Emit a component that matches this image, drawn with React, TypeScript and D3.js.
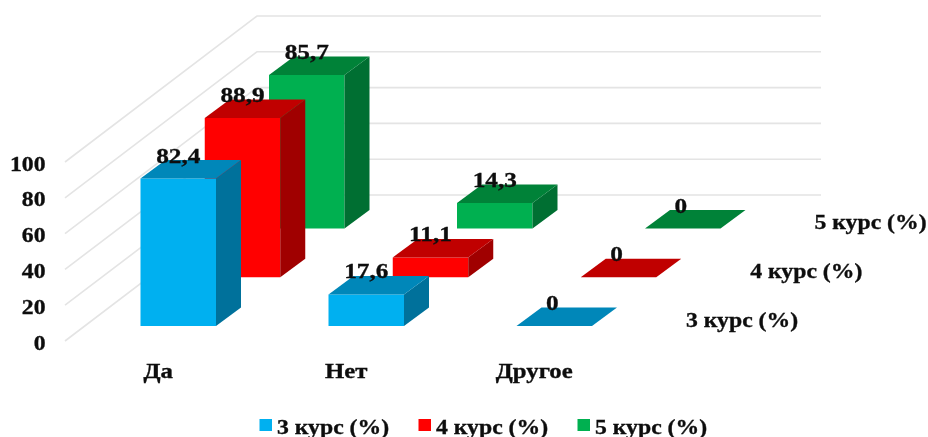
import React from "react";
import * as d3 from "d3";

const categories = ["Да", "Нет", "Другое"];
const seriesNames = ["3 курс (%)", "4 курс (%)", "5 курс (%)"];
const course3 = [82.4, 17.6, 0];
const course4 = [88.9, 11.1, 0];
const course5 = [85.7, 14.3, 0];
const seriesValues = [course3, course4, course5];
const valueLabels = [["82,4", "17,6", "0"], ["88,9", "11,1", "0"], ["85,7", "14,3", "0"]];
const ticks = [0, 20, 40, 60, 80, 100];
const frontColors = ["#00B0F0", "#FF0000", "#00B050"];
const topColors = ["#0087B9", "#C00000", "#008238"];
const sideColors = ["#00719B", "#A00000", "#006F32"];

const W = 928, H = 437;
const FONT = "'Liberation Serif', 'Times New Roman', serif";
const barW = 75.5, depthX = 25, depthY = 18.5;

const xCat = d3.scaleLinear().domain([0, 2]).range([140.5, 516.5]);
const xSeries = d3.scaleLinear().domain([0, 2]).range([0, 128.5]);
const ySeries = d3.scaleLinear().domain([0, 2]).range([326, 228.5]);
const h = d3.scaleLinear().domain([0, 100]).range([0, 179]);
const poly = (p: [number, number][]) => d3.line()(p)! + "Z";

function Label({ x, y, sx = 1.13, size = 21, anchor = "start", children }: any) {
  return (
    <text transform={`translate(${x},${y}) scale(${sx},1)`} textAnchor={anchor} fontSize={size} stroke="#111" strokeWidth={0.35} filter="url(#soft)">
      {children}
    </text>
  );
}

export default function App() {
  const order = [2, 1, 0];
  return (
    <svg width={W} height={H} style={{ position: "absolute", left: 0, top: 0, background: "#fff" }} fontFamily={FONT} fontWeight="bold" fill="#111">
      <defs>
        <filter id="soft" x="-10%" y="-10%" width="120%" height="120%">
          <feGaussianBlur stdDeviation="0.3" />
        </filter>
      </defs>
      {ticks.map((t) => (
        <g key={t} fill="none" stroke="#E4E4E4" strokeWidth={1.6}>
          <path d={d3.line()([[65, 341 - h(t)], [257, 195 - h(t)], [821, 195 - h(t)]])!} />
        </g>
      ))}
      {ticks.map((t) => (
        <Label key={t} x={45.5} y={342 - h(t) + 7.5} anchor="end">{t}</Label>
      ))}
      {order.map((s) =>
        categories.map((_, c) => {
          const x0 = xCat(c) + xSeries(s);
          const x1 = x0 + barW;
          const yb = ySeries(s);
          const yt = yb - h(seriesValues[s][c]);
          return (
            <g key={`${s}-${c}`} stroke="none">
              {seriesValues[s][c] > 0 && <path d={poly([[x0, yb], [x1, yb], [x1, yt], [x0, yt]])} fill={frontColors[s]} />}
              {seriesValues[s][c] > 0 && <path d={poly([[x1, yb], [x1 + depthX, yb - depthY], [x1 + depthX, yt - depthY], [x1, yt]])} fill={sideColors[s]} />}
              <path d={poly([[x0, yt], [x1, yt], [x1 + depthX, yt - depthY], [x0 + depthX, yt - depthY]])} fill={topColors[s]} />
            </g>
          );
        })
      )}
      {order.map((s) =>
        categories.map((_, c) => {
          const x0 = xCat(c) + xSeries(s);
          const yt = ySeries(s) - h(seriesValues[s][c]);
          return (
            <Label key={`l${s}-${c}`} x={x0 + barW / 2 - (seriesValues[s][c] === 0 ? 2 : 0)} y={yt - 16} anchor="middle" size={22} sx={1.15}>
              {valueLabels[s][c]}
            </Label>
          );
        })
      )}
      {categories.map((name, c) => (
        <Label key={name} x={xCat(c) + barW / 2 - 20} y={378} anchor="middle" sx={1.18}>{name}</Label>
      ))}
      {seriesNames.map((name, s) => (
        <Label key={name} x={686 + xSeries(s)} y={ySeries(s) + 0.5}>{name}</Label>
      ))}
      {seriesNames.map((name, s) => {
        const lx = d3.scaleLinear().domain([0, 2]).range([259.5, 577.5])(s);
        return (
          <g key={name}>
            <rect x={lx} y={419} width={12.5} height={12} fill={frontColors[s]} />
            <Label x={lx + 17.5} y={433.5}>{name}</Label>
          </g>
        );
      })}
    </svg>
  );
}
